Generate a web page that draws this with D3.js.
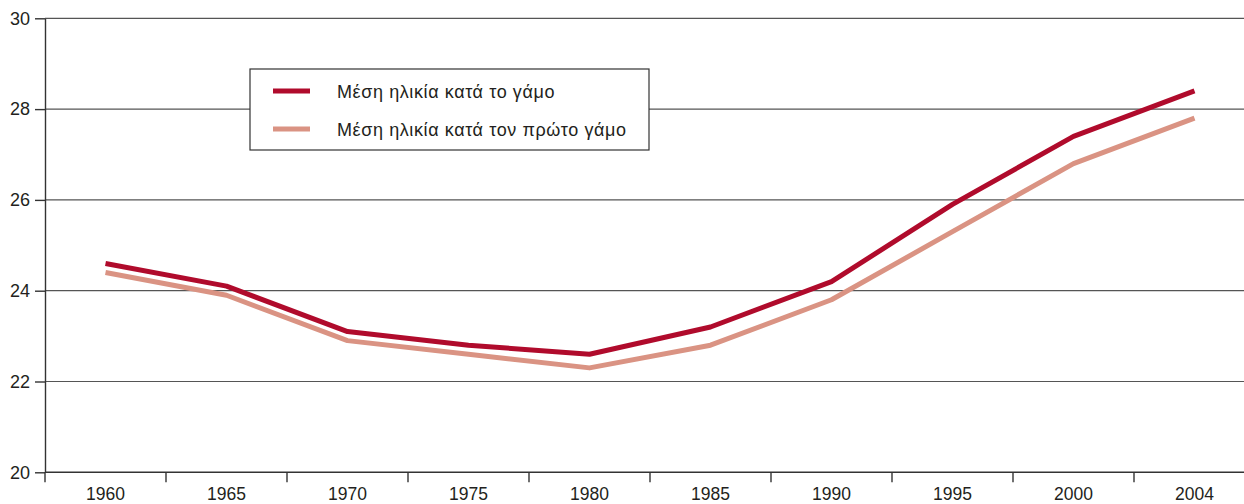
<!DOCTYPE html>
<html>
<head>
<meta charset="utf-8">
<style>
  body { margin: 0; padding: 0; background: #fff; overflow: hidden; }
  svg { display: block; font-family: "Liberation Sans", Arial, Helvetica, sans-serif; }
  .grid line { stroke: #555; stroke-width: 1.2px; }
  .axis path, .axis line { stroke: #333; stroke-width: 1.4px; fill: none; }
  .axis text { fill: #231f20; }
</style>
</head>
<body>
<script src="https://cdn.jsdelivr.net/npm/d3@7"></script>
<script>
// data
var years = ["1960", "1965", "1970", "1975", "1980", "1985", "1990", "1995", "2000", "2004"];
var ageAtMarriage = [24.6, 24.1, 23.1, 22.8, 22.6, 23.2, 24.2, 25.9, 27.4, 28.4];
var ageAtFirstMarriage = [24.4, 23.9, 22.9, 22.6, 22.3, 22.8, 23.8, 25.3, 26.8, 27.8];
var yTicks = [20, 22, 24, 26, 28, 30];
var seriesNames = ["Μέση ηλικία κατά το γάμο", "Μέση ηλικία κατά τον πρώτο γάμο"];
var seriesColors = ["#b00b2c", "#da9383"];

var W = 1244, H = 504;
var plotLeft = 45, plotTop = 18.3, plotBottom = 472.3;

var svg = d3.select("body").append("svg")
    .attr("width", W)
    .attr("height", H);

// band per year, plot runs past the right edge (clipped like the original)
var x = d3.scaleBand()
    .domain(years)
    .range([plotLeft, plotLeft + 121 * years.length])
    .paddingInner(0).paddingOuter(0);

var y = d3.scaleLinear()
    .domain([20, 30])
    .range([plotBottom, plotTop]);

// horizontal gridlines
svg.append("g")
    .attr("class", "grid")
    .selectAll("line")
    .data(yTicks.filter(function(d) { return d > 20; }))
    .enter().append("line")
    .attr("x1", plotLeft)
    .attr("x2", W)
    .attr("y1", function(d) { return y(d); })
    .attr("y2", function(d) { return y(d); });

// y axis
var yAxis = svg.append("g")
    .attr("class", "axis")
    .attr("transform", "translate(" + plotLeft + ",0)")
    .call(d3.axisLeft(y).tickValues(yTicks).tickSize(10).tickPadding(5).tickSizeOuter(0));
yAxis.selectAll("text").style("font-size", "18px");

// x axis: labels centered in bands, ticks on band edges
var xAxis = svg.append("g")
    .attr("class", "axis")
    .attr("transform", "translate(0," + plotBottom + ")");
xAxis.append("line")
    .attr("x1", plotLeft).attr("x2", W)
    .attr("y1", 0).attr("y2", 0);
xAxis.selectAll(".edge")
    .data(years)
    .enter().append("line")
    .attr("class", "edge")
    .attr("x1", function(d) { return x(d); })
    .attr("x2", function(d) { return x(d); })
    .attr("y1", 0).attr("y2", 10);
xAxis.selectAll(".lbl")
    .data(years)
    .enter().append("text")
    .attr("class", "lbl")
    .attr("x", function(d) { return x(d) + x.bandwidth() / 2; })
    .attr("y", 27.5)
    .attr("text-anchor", "middle")
    .style("font-size", "17.5px")
    .text(function(d) { return d; });

// lines
var line = d3.line()
    .x(function(d, i) { return x(years[i]) + x.bandwidth() / 2; })
    .y(function(d) { return y(d); });

[ageAtFirstMarriage, ageAtMarriage].forEach(function(vals, k) {
    svg.append("path")
        .datum(vals)
        .attr("fill", "none")
        .attr("stroke", seriesColors[1 - k])
        .attr("stroke-width", 5)
        .attr("stroke-linejoin", "round")
        .attr("d", line);
});

// legend
var lg = svg.append("g").attr("transform", "translate(250,69)");
lg.append("rect")
    .attr("width", 399).attr("height", 81)
    .attr("fill", "#fff")
    .attr("stroke", "#333")
    .attr("stroke-width", 1.2);
seriesNames.forEach(function(name, i) {
    var yy = 22 + i * 38;
    lg.append("line")
        .attr("x1", 23).attr("x2", 60)
        .attr("y1", yy).attr("y2", yy)
        .attr("stroke", seriesColors[i])
        .attr("stroke-width", 5);
    lg.append("text")
        .attr("x", 87)
        .attr("y", yy + 7)
        .style("font-size", "18px")
        .style("letter-spacing", "0.6px")
        .style("fill", "#231f20")
        .text(name);
});
</script>
</body>
</html>
